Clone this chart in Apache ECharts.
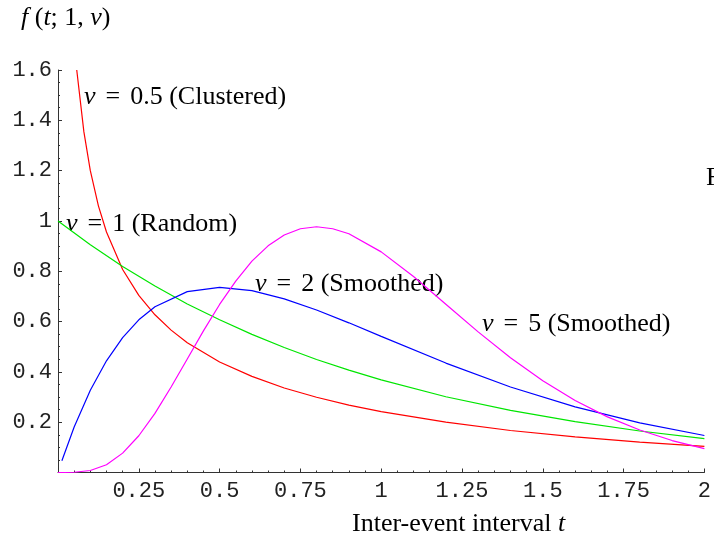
<!DOCTYPE html>
<html>
<head>
<meta charset="utf-8">
<script src="https://cdn.jsdelivr.net/npm/echarts@6/dist/echarts.min.js"></script>
<style>
html, body { margin: 0; padding: 0; background: #fff; }
#main { width: 714px; height: 541px; }
</style>
</head>
<body>
<div id="main"></div>
<script>
// sample points, one pair of arrays per curve
var tRed   = [0.058, 0.08, 0.1, 0.125, 0.15, 0.2, 0.25, 0.3, 0.35, 0.4, 0.5, 0.6, 0.7, 0.8, 0.9, 1.0, 1.2, 1.4, 1.6, 1.8, 2.0];
var fRed   = [1.6, 1.355, 1.2, 1.06, 0.956, 0.807, 0.704, 0.627, 0.566, 0.516, 0.439, 0.382, 0.336, 0.299, 0.268, 0.242, 0.2, 0.167, 0.142, 0.121, 0.104];

var tGreen = [0, 0.1, 0.2, 0.3, 0.4, 0.5, 0.6, 0.7, 0.8, 0.9, 1.0, 1.2, 1.4, 1.6, 1.8, 2.0];
var fGreen = [1, 0.905, 0.819, 0.741, 0.67, 0.607, 0.549, 0.497, 0.449, 0.407, 0.368, 0.301, 0.247, 0.202, 0.165, 0.135];

var tBlue  = [0.012, 0.05, 0.1, 0.15, 0.2, 0.25, 0.3, 0.4, 0.5, 0.6, 0.7, 0.8, 0.9, 1.0, 1.2, 1.4, 1.6, 1.8, 2.0];
var fBlue  = [0.047, 0.181, 0.327, 0.444, 0.536, 0.607, 0.659, 0.719, 0.736, 0.723, 0.69, 0.646, 0.595, 0.541, 0.435, 0.34, 0.261, 0.197, 0.147];

var tMag   = [0, 0.05, 0.1, 0.15, 0.2, 0.25, 0.3, 0.35, 0.4, 0.45, 0.5, 0.55, 0.6, 0.65, 0.7, 0.75, 0.8, 0.85, 0.9, 1.0, 1.1, 1.2, 1.3, 1.4, 1.5, 1.6, 1.7, 1.8, 1.9, 2.0];
var fMag   = [0, 0.001, 0.008, 0.031, 0.077, 0.146, 0.235, 0.34, 0.451, 0.563, 0.668, 0.761, 0.84, 0.901, 0.944, 0.969, 0.977, 0.969, 0.949, 0.877, 0.779, 0.669, 0.559, 0.456, 0.365, 0.286, 0.221, 0.169, 0.127, 0.095];

var xTicks = [0.25, 0.5, 0.75, 1, 1.25, 1.5, 1.75, 2];
var yTicks = [0.2, 0.4, 0.6, 0.8, 1, 1.2, 1.4, 1.6];

function pairs(xs, ys) {
  var out = [];
  for (var i = 0; i < xs.length; i++) out.push([xs[i], ys[i]]);
  return out;
}

var myChart = echarts.init(document.getElementById('main'));

var serif = 'Liberation Serif';
var mono = 'Liberation Mono';
var rich = {
  i: { fontFamily: serif, fontStyle: 'italic', fontSize: 26, fill: '#000' },
  r: { fontFamily: serif, fontSize: 26, fill: '#000' },
  eq: { fontFamily: serif, fontSize: 26, fill: '#000', padding: [0, 10, 0, 10] }
};

function label(x, y, parts) {
  return {
    type: 'text', x: x, y: y, silent: true,
    style: { text: parts, rich: rich, verticalAlign: 'middle', align: 'left', fill: '#000' }
  };
}

function axisBase(ticks, splits) {
  return {
    type: 'value',
    min: 0,
    interval: 0.25,
    axisLine: { show: true, onZero: true, lineStyle: { color: '#333', width: 1 } },
    axisTick: { show: true, inside: true, length: 4, lineStyle: { color: '#333' } },
    minorTick: { show: true, splitNumber: splits, length: 2, lineStyle: { color: '#333' } },
    splitLine: { show: false },
    axisLabel: {
      fontFamily: mono, fontSize: 22, color: '#222',
      formatter: function (v) {
        for (var k = 0; k < ticks.length; k++) if (Math.abs(ticks[k] - v) < 1e-9) return String(ticks[k]);
        return '';
      }
    }
  };
}

var xAxis = axisBase(xTicks, 5);
xAxis.max = 2;
xAxis.interval = 0.25;
xAxis.axisLabel.margin = 8;
xAxis.axisLabel.showMaxLabel = true;

var yAxis = axisBase(yTicks, 4);
yAxis.max = 1.6;
yAxis.interval = 0.2;
yAxis.axisLabel.margin = 6;

function line(name, color, xs, ys) {
  return {
    name: name, type: 'line', data: pairs(xs, ys),
    showSymbol: false, smooth: false, clip: true,
    lineStyle: { color: color, width: 1.2 },
    itemStyle: { color: color }
  };
}

option = {
  backgroundColor: '#fff',
  animation: false,
  grid: { left: 58, right: 5, top: 70, bottom: 68.5, containLabel: false },
  xAxis: xAxis,
  yAxis: yAxis,
  series: [
    line('nu=0.5', '#ff0000', tRed, fRed),
    line('nu=1', '#00e600', tGreen, fGreen),
    line('nu=2', '#0000ff', tBlue, fBlue),
    line('nu=5', '#ff00ff', tMag, fMag)
  ],
  graphic: [
    label(21, 18, '{i|f}{r| (}{i|t}{r|; 1, }{i|ν}{r|)}'),
    label(84, 97, '{i|ν}{eq|=}{r|0.5 (Clustered)}'),
    label(66, 224, '{i|ν}{eq|=}{r|1 (Random)}'),
    label(255, 284, '{i|ν}{eq|=}{r|2 (Smoothed)}'),
    label(482, 324, '{i|ν}{eq|=}{r|5 (Smoothed)}'),
    label(706, 178, '{r|F}'),
    label(352, 524, '{r|Inter-event interval }{i|t}')
  ]
};

myChart.setOption(option);
</script>
</body>
</html>
